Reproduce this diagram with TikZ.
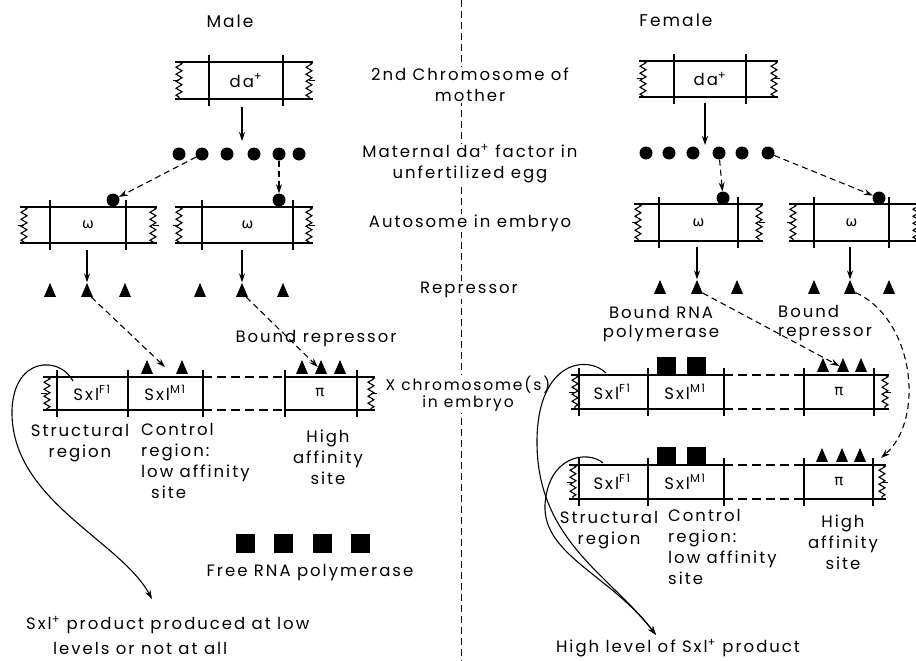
\documentclass[tikz,border=0pt]{standalone}
\usepackage{fontspec}
\setmainfont{Poppins}[LetterSpace=12]
\newfontfamily\greekfont{DejaVu Sans}
\usetikzlibrary{arrows.meta,shapes.geometric,decorations.pathmorphing}
\tikzset{
  every picture/.style={font=\fontsize{16.5}{21}\selectfont},
  gene line/.style={draw, line width=1.3pt},
  gene wave/.style={draw, line width=1.1pt, decorate,
    decoration={zigzag, segment length=7pt, amplitude=3pt}},
  gene seg/.style={inner sep=0pt},
  gene arrow/.style={-{Stealth[length=9pt,width=6pt]}, line width=1.1pt},
  gene link/.style={gene arrow, dash pattern=on 6pt off 4pt},
  gene guide/.style={draw, line width=1pt, dash pattern=on 7pt off 4pt},
  gene label/.style={align=center, inner sep=1pt},
  gene title/.style={gene label, font=\fontsize{17}{21}\selectfont},
  gene greek/.style={inner sep=1pt, font=\greekfont\fontsize{15}{21}\selectfont},
  factor dot/.style={circle, fill, inner sep=0pt, minimum size=13pt},
  repressor/.style={isosceles triangle, isosceles triangle stretches,
    shape border rotate=90, fill, inner sep=0pt, minimum width=12pt, minimum height=14pt},
  polymerase/.style={rectangle, fill, inner sep=0pt, minimum width=19pt, minimum height=19pt}
}
\newcommand{\geneends}[4]{%
  \draw[gene wave] (#1,#3) -- (#1,#4);
  \draw[gene wave] (#2,#3) -- (#2,#4);
  \draw[gene line, line width=1pt] (#1,{(#3+#4)/2}) -- ++(-6,0);
  \draw[gene line, line width=1pt] (#2,{(#3+#4)/2}) -- ++(6,0);
}
\newcommand{\chromo}[8]{%
  \draw[gene line] (#2,#4) -- (#3,#4) (#2,#5) -- (#3,#5)
    (#6,#4-7) -- (#6,#5+7) (#7,#4-7) -- (#7,#5+7);
  \geneends{#2+4}{#3-4}{#4}{#5}
  \pgfmathsetmacro\segw{#7-#6}\pgfmathsetmacro\segh{#5-#4}
  \node[gene seg, minimum width=\segw pt, minimum height=\segh pt] (#1)
    at ({(#6+#7)/2},{(#4+#5)/2}) {#8};
}
\newcommand{\xchromo}[7]{%
  \draw[gene line] (#1,#3) -- (#5,#3) (#1,#4) -- (#5,#4)
    (#6,#3) -- (#2,#3) (#6,#4) -- (#2,#4);
  \draw[gene line, dash pattern=on 9pt off 5pt] (#5,#3) -- (#6,#3) (#5,#4) -- (#6,#4);
  \foreach \xd in {#5,#6,#7} \draw[gene line] (\xd,#3-7) -- (\xd,#4+7);
  \geneends{#1+4}{#2-4}{#3}{#4}
}
\begin{document}
\begin{tikzpicture}[x=1pt,y=-1pt]
  \useasboundingbox (0,0) rectangle (916,661);
  \draw[gene guide] (461,0) -- (461,661);
  \node[gene title] (male) at (230,21) {Male};
  \node[gene title] (female) at (676,20) {Female};
  \node[gene label, fill=white] (mother) at (470,85) {2nd Chromosome of\\mother};
  \node[gene label, fill=white] (eggfactor) at (470,164) {Maternal da\textsuperscript{+} factor in\\unfertilized egg};
  \node[gene label, fill=white] (autosome) at (470,223) {Autosome in embryo};
  \node[gene label, fill=white] (reprlabel) at (469,290) {Repressor};
  \node[gene label, fill=white, font=\fontsize{15.5}{21}\selectfont] (xlabel) at (468,394) {X chromosome(s)\\[-4pt]in embryo};
  % male
  \chromo{mda}{175}{313}{62}{99}{209}{283}{da\textsuperscript{+}}
  \foreach \x [count=\i] in {179,202,227,254,279,299}
    \node[factor dot] (md\i) at (\x,154) {};
  \coordinate (mfactor) at (242,141);
  \draw[gene arrow] (mda.south -| mfactor) ++(0,8) -- (mfactor);
  \chromo{mw1}{20}{157}{207}{243}{50}{126}{\greekfont\fontsize{14}{21}\selectfont ω}
  \chromo{mw2}{175}{313}{207}{243}{202}{293}{\greekfont\fontsize{14}{21}\selectfont ω}
  \node[factor dot] (mb1) at (113,200) {};
  \node[factor dot] (mb2) at (279,200) {};
  \draw[gene link] (md2) -- (mb1);
  \draw[gene link] (md5) -- (mb2);
  \foreach \x [count=\i] in {50,87,125,200,242,283}
    \node[repressor] (mr\i) at (\x,293) {};
  \draw[gene arrow] (mr2 |- mw1.south) ++(0,7) -- (mr2);
  \draw[gene arrow] (mr5 |- mw2.south) ++(0,7) -- (mr5);
  \xchromo{43}{375}{377}{410}{203}{285}{57,128,357}
  \node[gene label] (mf) at (92,393) {Sxl\textsuperscript{F1}};
  \node[gene label] (mm) at (165,393) {Sxl\textsuperscript{M1}};
  \node[gene greek] (mpi) at (320,393) {π};
  \foreach \x [count=\i] in {147,182}
    \node[repressor] (mc\i) at (\x,370) {};
  \foreach \x [count=\i] in {302,321,340}
    \node[repressor] (mh\i) at (\x,370) {};
  \coordinate (mlow) at (165,367);
  \draw[gene link] (mr2) -- (mlow);
  \draw[gene link] (mr5) -- (mh2);
  \node[gene label] (mbound) at (316,339) {Bound repressor};
  \node[gene label] (mstruct) at (80,443) {Structural\\region};
  \node[gene label, align=left, anchor=north west] (mcontrol) at (140,422) {Control\\region:\\low affinity\\\hspace{10pt}site};
  \node[gene label] (mhigh) at (328,457) {High\\affinity\\site};
  \foreach \x [count=\i] in {245,283,322,360}
    \node[polymerase] (mp\i) at (\x,543) {};
  \node[gene label] (mfree) at (310,573) {Free RNA polymerase};
  \coordinate (mstart) at (73,381);
  \coordinate (mprod) at (152,599);
  \draw[gene arrow] (mstart) .. controls (60,356) and (14,356) .. (12,410)
    .. controls (10,500) and (120,540) .. (mprod);
  \node[gene label, anchor=west] (mtext) at (25,625) {Sxl\textsuperscript{+} product produced at low};
  \node[gene label, anchor=west] (mtextb) at (52,648) {levels or not at all};
  % female
  \chromo{fda}{639}{778}{61}{97}{674}{746}{da\textsuperscript{+}}
  \foreach \x [count=\i] in {646,669,693,719,742,768}
    \node[factor dot] (fd\i) at (\x,153) {};
  \coordinate (ffactor) at (705,145);
  \draw[gene arrow] (fda.south -| ffactor) ++(0,6) -- (ffactor);
  \chromo{fw1}{634}{763}{204}{241}{659}{738}{\greekfont\fontsize{14}{21}\selectfont ω}
  \chromo{fw2}{789}{920}{204}{241}{814}{889}{\greekfont\fontsize{14}{21}\selectfont ω}
  \node[factor dot] (fb1) at (723,198) {};
  \node[factor dot] (fb2) at (879,198) {};
  \draw[gene link] (fd4) -- (fb1);
  \draw[gene link] (fd6) -- (fb2);
  \foreach \x [count=\i] in {660,697,737,814,850,889}
    \node[repressor] (fr\i) at (\x,290) {};
  \draw[gene arrow] (fr2 |- fw1.south) ++(0,6) -- (fr2);
  \draw[gene arrow] (fr5 |- fw2.south) ++(0,6) -- (fr5);
  \node[gene label] (fboundp) at (661,324) {Bound RNA\\[-2pt]polymerase};
  \node[gene label, align=left, anchor=west] (fboundr) at (777,323) {Bound\\[-2pt]repressor};
  \xchromo{571}{889}{375}{409}{724}{804}{579,648,874}
  \xchromo{569}{886}{465}{499}{724}{804}{579,648,873}
  \foreach \y [count=\j] in {392,482} {
    \node[gene label] (ff\j) at (612,\y) {Sxl\textsuperscript{F1}};
    \node[gene label] (fm\j) at (685,\y) {Sxl\textsuperscript{M1}};
    \node[gene greek] (fpi\j) at (839,\y) {π};
  }
  \foreach \x [count=\i] in {666,696}
    \node[polymerase, minimum height=18pt] (fp\i) at (\x,366) {};
  \foreach \x [count=\i] in {666,696}
    \node[polymerase, minimum height=18pt] (fq\i) at (\x,456) {};
  \foreach \x [count=\i] in {823,843,861}
    \node[repressor] (fh\i) at (\x,368) {};
  \foreach \x [count=\i] in {822,842,860}
    \node[repressor] (fk\i) at (\x,458) {};
  \coordinate (fxend) at (881,458);
  \draw[gene link] (fr2) -- (fh2);
  \draw[gene link] (fr5) .. controls (915,320) and (925,420) .. (fxend);
  \node[gene label] (fstruct) at (609,530) {Structural\\region};
  \node[gene label, align=left, anchor=north west] (fcontrol) at (667,508) {Control\\region:\\low affinity\\site};
  \node[gene label] (fhigh) at (843,542) {High\\affinity\\site};
  \coordinate (fstarta) at (606,373);
  \coordinate (fstartb) at (603,463);
  \coordinate (fprod) at (656,635);
  \draw[gene arrow] (fstarta) .. controls (588,355) and (538,360) .. (537,440)
    .. controls (536,540) and (610,575) .. (fprod);
  \draw[gene arrow] (fstartb) .. controls (588,450) and (548,455) .. (545,505)
    .. controls (543,555) and (610,575) .. (fprod);
  \node[gene label] (ftext) at (678,648) {High level of Sxl\textsuperscript{+} product};
\end{tikzpicture}
\end{document}
